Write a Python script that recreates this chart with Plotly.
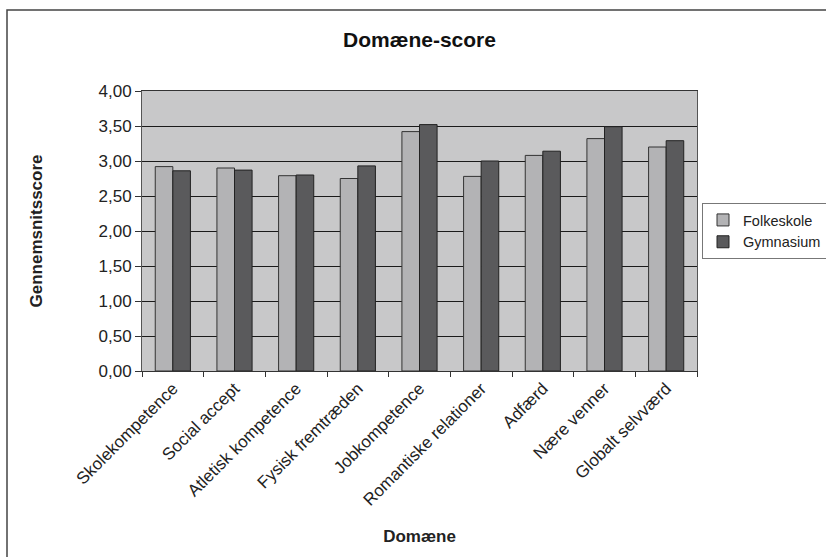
import plotly.graph_objects as go

categories = ["Skolekompetence", "Social accept", "Atletisk kompetence", "Fysisk fremtræden",
              "Jobkompetence", "Romantiske relationer", "Adfærd", "Nære venner", "Globalt selvværd"]
folkeskole = [2.92, 2.90, 2.79, 2.75, 3.42, 2.78, 3.08, 3.32, 3.20]
gymnasium = [2.86, 2.87, 2.80, 2.93, 3.52, 3.00, 3.14, 3.49, 3.29]
y_ticks = [0, 0.5, 1.0, 1.5, 2.0, 2.5, 3.0, 3.5, 4.0]
y_labels = ["0,00", "0,50", "1,00", "1,50", "2,00", "2,50", "3,00", "3,50", "4,00"]

FONT = "Liberation Sans, Arial, sans-serif"

# plot area in page pixels (body margin removed below)
PL, PR, PT, PB = 142, 697, 91, 371
PW, PH = PR - PL, PB - PT

fig = go.Figure()
fig.add_trace(go.Bar(x=categories, y=folkeskole, name="Folkeskole",
                     marker=dict(color="#B3B3B5", line=dict(color="#333333", width=1))))
fig.add_trace(go.Bar(x=categories, y=gymnasium, name="Gymnasium",
                     marker=dict(color="#5A5A5C", line=dict(color="#222222", width=1))))

fig.update_layout(
    width=826, height=557,
    margin=dict(l=PL, r=826 - PR, t=PT, b=557 - PB, autoexpand=False),
    paper_bgcolor="white",
    plot_bgcolor="#C8C8C9",
    barmode="group", bargap=0.43, bargroupgap=0,
    font=dict(family=FONT, size=17, color="#222222"),
    title=dict(text="<b>Domæne-score</b>", x=(PL + PR) / 2 / 826, xanchor="center",
               y=1 - 40 / 557, yanchor="middle", font=dict(size=21, family=FONT, color="#111111")),
    showlegend=True,
    legend=dict(x=(702 - PL) / PW, y=(PB - 203) / PH, xanchor="left", yanchor="top",
                bgcolor="white", bordercolor="#777777", borderwidth=1,
                font=dict(size=14.5, family=FONT, color="#222222"),
                itemwidth=30, tracegroupgap=0),
    xaxis=dict(
        type="category", tickangle=-45, tickson="boundaries",
        ticks="outside", ticklen=5, tickcolor="#333333",
        showline=True, linecolor="#333333", linewidth=1, mirror=True,
        showgrid=False,
        tickfont=dict(size=17, family=FONT, color="#222222"),
        title=dict(text="<b>Domæne</b>", standoff=21, font=dict(size=17, family=FONT, color="#222222")),
    ),
    yaxis=dict(
        range=[0, 4], tickvals=y_ticks, ticktext=y_labels,
        ticks="outside", ticklen=6, tickcolor="#333333",
        showline=True, linecolor="#555555", linewidth=1, mirror=True,
        showgrid=True, gridcolor="#1A1A1A", gridwidth=1,
        zeroline=False,
        tickfont=dict(size=17, family=FONT, color="#222222"),
        title=dict(text="<b>Gennemsnitsscore</b>", standoff=51, font=dict(size=17, family=FONT, color="#222222")),
    ),
)

# outer chart frame (left and top edges visible; right/bottom run off the picture)
fig.add_shape(type="rect", xref="paper", yref="paper",
              x0=(7 - PL) / PW, x1=(840 - PL) / PW,
              y0=(PB - 570) / PH, y1=(PB - 10) / PH,
              line=dict(color="#444444", width=1.5), fillcolor="rgba(0,0,0,0)", layer="below")

fig.write_html("out.html", config={"displayModeBar": False},
               post_script="document.body.style.margin='0';")
